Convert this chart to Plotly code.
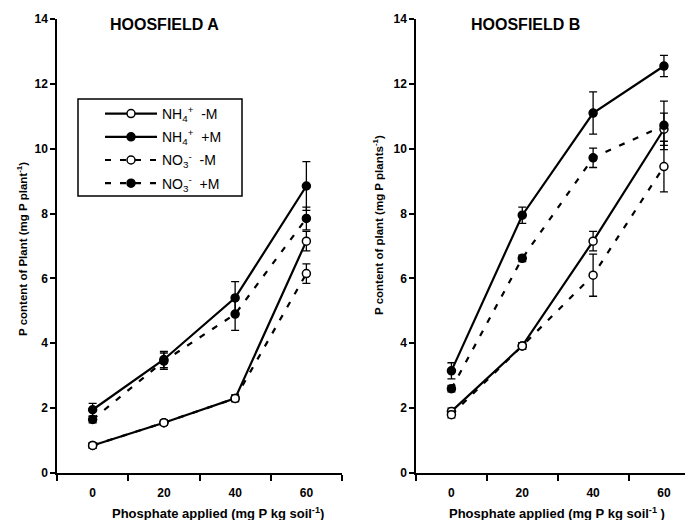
import plotly.graph_objects as go

# ---------------- data ----------------
phosphate = [0, 20, 40, 60]
x_tick_labels = ["0", "20", "40", "60"]
y_ticks = [0, 2, 4, 6, 8, 10, 12, 14]

series_names = ["NH<sub>4</sub><sup>+</sup>  -M", "NH<sub>4</sub><sup>+</sup>  +M",
                "NO<sub>3</sub><sup>-</sup>  -M", "NO<sub>3</sub><sup>-</sup>  +M"]

# Hoosfield A
a_nh4_minus = [0.85, 1.55, 2.3, 7.15]
a_nh4_minus_err = [0.08, 0.08, 0.1, 0.3]
a_nh4_plus = [1.95, 3.5, 5.4, 8.85]
a_nh4_plus_err = [0.2, 0.25, 0.5, 0.75]
a_no3_minus = [0.85, 1.55, 2.3, 6.15]
a_no3_minus_err = [0.08, 0.08, 0.1, 0.3]
a_no3_plus = [1.65, 3.45, 4.9, 7.85]
a_no3_plus_err = [0.1, 0.25, 0.5, 0.35]

# Hoosfield B
b_nh4_minus = [1.9, 3.92, 7.15, 10.6]
b_nh4_minus_err = [0.1, 0.1, 0.3, 0.5]
b_nh4_plus = [3.15, 7.95, 11.1, 12.55]
b_nh4_plus_err = [0.25, 0.25, 0.65, 0.33]
b_no3_minus = [1.8, 3.92, 6.1, 9.45]
b_no3_minus_err = [0.1, 0.1, 0.65, 0.78]
b_no3_plus = [2.6, 6.62, 9.72, 10.72]
b_no3_plus_err = [0.1, 0.1, 0.3, 0.75]

panel_a = [(a_nh4_minus, a_nh4_minus_err), (a_nh4_plus, a_nh4_plus_err),
           (a_no3_minus, a_no3_minus_err), (a_no3_plus, a_no3_plus_err)]
panel_b = [(b_nh4_minus, b_nh4_minus_err), (b_nh4_plus, b_nh4_plus_err),
           (b_no3_minus, b_no3_minus_err), (b_no3_plus, b_no3_plus_err)]

styles = [
    dict(dash="solid", fill="white"),
    dict(dash="solid", fill="black"),
    dict(dash="6px,9px", fill="white"),
    dict(dash="6px,9px", fill="black"),
]

# page body has an 8px margin; lay the figure out in window pixels
OFF = 8
W, H = 693 - OFF, 520 - OFF


def px(x):
    return (x - OFF) / W


def py(y):
    return 1 - (y - OFF) / H


fig = go.Figure()

for panel_idx, (panel, xa, ya) in enumerate([(panel_a, "x", "y"), (panel_b, "x2", "y2")]):
    for i, (vals, errs) in enumerate(panel):
        st = styles[i]
        fig.add_trace(go.Scatter(
            x=phosphate, y=vals, xaxis=xa, yaxis=ya,
            mode="lines+markers",
            name=series_names[i],
            legendgroup=f"g{i}",
            showlegend=(panel_idx == 0),
            line=dict(color="black", width=2.2, dash=st["dash"]),
            marker=dict(symbol="circle", size=8, color=st["fill"],
                        line=dict(color="black", width=1.5)),
            error_y=dict(type="data", array=errs, visible=True,
                         color="black", thickness=1.3, width=4),
        ))

font_family = "Arial, Liberation Sans, sans-serif"
tick_font = dict(size=12, family=font_family, color="black", weight="bold")


def xaxis_cfg(domain, rng):
    return dict(
        domain=domain, range=rng, showgrid=False, zeroline=False, automargin=False,
        showline=True, linecolor="black", linewidth=1.5,
        tickmode="array", tickvals=phosphate, ticktext=x_tick_labels,
        ticks="", ticklabelstandoff=8, tickfont=tick_font,
        minor=dict(tickmode="array", tickvals=[-10, 10, 30, 50, 70],
                   ticks="outside", ticklen=6, tickwidth=1.5, tickcolor="black"),
    )


def yaxis_cfg(anchor):
    return dict(
        domain=[py(473), py(19)], range=[0, 14], anchor=anchor, automargin=False,
        showgrid=False, zeroline=False,
        showline=True, linecolor="black", linewidth=1.5,
        tickmode="array", tickvals=y_ticks, ticks="outside", ticklen=5,
        tickwidth=1.5, tickcolor="black",
        tickfont=tick_font,
    )


fig.update_layout(
    width=W, height=H,
    margin=dict(l=0, r=0, t=0, b=0, autoexpand=False),
    paper_bgcolor="white", plot_bgcolor="white",
    font=dict(family=font_family, color="black"),
    xaxis=dict(**xaxis_cfg([px(57), px(342)], [-10, 70]), anchor="y"),
    yaxis=yaxis_cfg("x"),
    xaxis2=dict(**xaxis_cfg([px(416), 1.0], [-10, 68.2]), anchor="y2"),
    yaxis2=yaxis_cfg("x2"),
    legend=dict(
        x=px(100), y=py(98), xanchor="left", yanchor="top",
        borderwidth=0, bgcolor="rgba(0,0,0,0)",
        font=dict(size=14, family=font_family, color="black"),
        itemwidth=52, tracegroupgap=2,
    ),
    showlegend=True,
    shapes=[dict(type="rect", xref="paper", yref="paper",
                 x0=px(78), x1=px(242), y0=py(196), y1=py(99),
                 line=dict(color="black", width=1.5), fillcolor="white", layer="above")],
)

ann_common = dict(xref="paper", yref="paper", showarrow=False, xanchor="center", yanchor="middle")
annotations = [
    dict(text="<b>HOOSFIELD A</b>", x=px(164), y=py(24), font=dict(size=16), **ann_common),
    dict(text="<b>HOOSFIELD B</b>", x=px(525), y=py(24), font=dict(size=16), **ann_common),
    dict(text="<b>Phosphate applied (mg P kg soil<sup>-1</sup>)</b>", x=px(218), y=py(513),
         font=dict(size=13), **ann_common),
    dict(text="<b>Phosphate applied (mg P kg soil<sup>-1</sup> )</b>", x=px(557), y=py(513),
         font=dict(size=13), **ann_common),
    dict(text="<b>P content of Plant (mg P plant<sup>-1</sup>)</b>", x=px(22), y=py(249),
         textangle=-90, font=dict(size=11.5), **ann_common),
    dict(text="<b>P content of plant (mg P plants<sup>-1</sup>)</b>", x=px(378), y=py(225),
         textangle=-90, font=dict(size=11.5), **ann_common),
]
fig.update_layout(annotations=annotations)

fig.write_html("out.html")
